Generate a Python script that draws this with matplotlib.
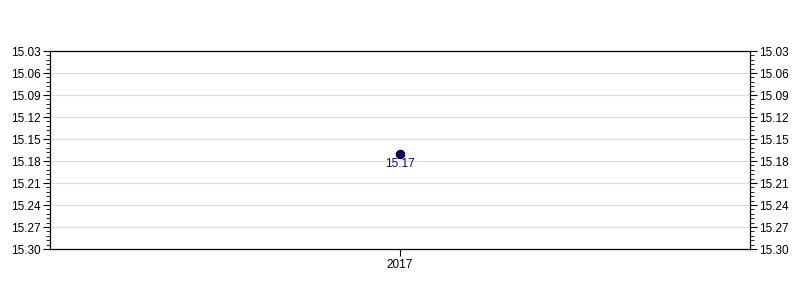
import matplotlib.pyplot as plt
from matplotlib.ticker import MultipleLocator, FormatStrFormatter

plt.rcParams['font.family'] = ['Liberation Sans', 'DejaVu Sans']

# data
years = [2017]
values = [15.17]
point_labels = ['15.17']

fig = plt.figure(figsize=(8, 3), dpi=100)
ax = fig.add_axes([0.0625, 0.17, 0.875, 0.66])

ax.plot(years, values, 'o', color='#000080', markeredgecolor='black',
        markersize=6, markeredgewidth=0.8, zorder=3)
for x, y, t in zip(years, values, point_labels):
    ax.annotate(t, (x, y), xytext=(0, -7.5), textcoords='offset points',
                ha='center', va='center', color='#0000aa', fontsize=8.5)

ax.set_xlim(years[0] - 1, years[0] + 1)
ax.set_xticks(years)
ax.set_xticklabels([str(y) for y in years])

ax.set_ylim(15.30, 15.03)
ax.yaxis.set_major_locator(MultipleLocator(0.03))
ax.yaxis.set_minor_locator(MultipleLocator(0.006))
ax.yaxis.set_major_formatter(FormatStrFormatter('%.2f'))
ax.grid(axis='y', which='major', color='#dddddd', linewidth=0.8)
ax.set_axisbelow(True)

ax.tick_params(axis='y', which='both', left=True, right=True,
               labelleft=True, labelright=True, direction='out', labelsize=8.5)
ax.tick_params(axis='y', which='major', length=5, pad=1.5)
ax.tick_params(axis='y', which='minor', length=3)
ax.tick_params(axis='x', labelsize=8.5, length=5, pad=2)

for s in ax.spines.values():
    s.set_color('black')
    s.set_linewidth(0.9)

fig.savefig('out.png', dpi=100)
